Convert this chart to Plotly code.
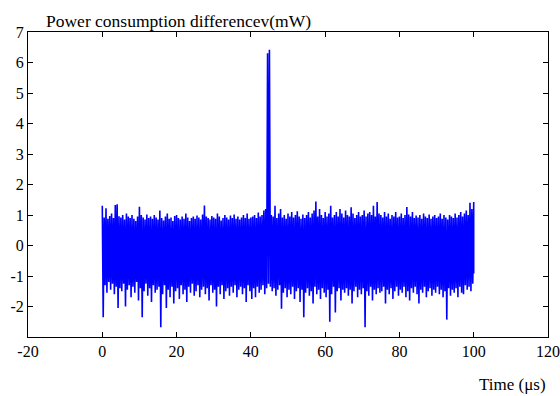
import plotly.graph_objects as go

# time grid step (µs) for envelope samples
t_start = 0.0
t_step = 0.5

# upper envelope (mW) every 0.5 µs from 0 to 100
upper = [
    1.30, 0.92, 1.22, 0.88, 0.97, 1.05, 0.90, 1.33, 1.35, 0.96,
    0.92, 1.00, 0.85, 1.05, 0.95, 0.90, 1.00, 0.88, 0.80, 0.95,
    1.27, 1.00, 0.92, 0.85, 1.02, 0.90, 0.95, 0.88, 1.00, 0.92,
    0.85, 1.15, 0.90, 0.82, 0.95, 1.05, 0.88, 0.92, 0.80, 0.97,
    1.00, 0.90, 0.85, 0.95, 0.88, 1.05, 0.92, 0.80, 0.90, 0.95,
    0.88, 0.98, 0.92, 0.85, 1.02, 1.31, 0.95, 0.90, 0.85, 0.97,
    0.92, 0.88, 1.05, 0.95, 0.82, 0.90, 1.00, 0.92, 0.85, 0.98,
    0.90, 1.02, 0.88, 0.95, 0.85, 0.92, 1.00, 0.90, 1.05, 0.88,
    0.92, 0.95, 1.00, 0.90, 1.08, 0.95, 1.00, 1.15, 1.20, 6.30,
    6.42, 1.00, 0.95, 1.30, 0.90, 1.05, 1.20, 0.92, 1.00, 0.88,
    1.05, 0.95, 1.10, 0.92, 1.00, 1.12, 0.95, 0.88, 1.02, 0.90,
    1.00, 1.10, 0.92, 1.05, 1.15, 1.44, 0.95, 1.20, 1.00, 0.90,
    1.10, 0.95, 1.05, 1.30, 0.92, 1.00, 1.10, 0.95, 1.20, 1.05,
    0.92, 1.15, 1.00, 0.95, 1.25, 1.05, 0.90, 1.00, 1.10, 0.95,
    1.00, 1.15, 0.95, 1.05, 1.10, 1.00, 1.30, 0.95, 1.43, 1.05,
    1.00, 0.92, 1.10, 0.95, 1.05, 0.88, 1.00, 0.95, 1.10, 0.92,
    0.95, 1.05, 0.90, 1.00, 1.26, 1.02, 0.95, 1.10, 0.90, 0.98,
    0.92, 1.00, 0.88, 1.05, 0.95, 0.90, 1.02, 0.88, 0.95, 1.00,
    0.90, 0.95, 1.05, 0.88, 1.00, 0.92, 0.85, 1.00, 0.95, 0.90,
    1.05, 0.92, 1.00, 1.10, 0.95, 1.05, 1.15, 1.00, 1.40, 1.20,
    1.43,
]

# lower envelope (mW) every 0.5 µs from 0 to 100 (sampled a quarter step later)
lower = [
    -2.35, -1.30, -1.55, -1.20, -1.45, -1.25, -1.60, -1.35, -2.05, -1.40,
    -1.50, -1.25, -2.00, -1.45, -1.30, -1.70, -1.35, -1.55, -1.20, -1.80,
    -1.40, -2.35, -1.50, -1.25, -1.65, -1.40, -1.85, -1.30, -1.55, -1.45,
    -1.35, -2.68, -1.60, -1.30, -2.05, -1.45, -1.70, -1.35, -1.90, -1.50,
    -1.40, -1.75, -1.30, -1.60, -1.45, -1.85, -1.35, -1.55, -1.25, -1.65,
    -1.50, -1.30, -1.70, -1.45, -1.35, -1.60, -1.40, -1.80, -1.30, -1.55,
    -1.45, -2.00, -1.35, -1.60, -1.30, -1.75, -1.50, -1.40, -1.65, -1.35,
    -1.55, -1.30, -1.70, -1.45, -1.35, -1.60, -1.40, -1.85, -1.30, -1.50,
    -1.75, -1.40, -1.70, -1.35, -1.55, -1.45, -1.30, -1.60, -1.40, -1.25,
    -1.35, -1.50, -1.40, -1.65, -1.45, -1.30, -2.07, -1.55, -1.40, -1.70,
    -1.45, -1.60, -1.35, -1.75, -1.50, -1.40, -1.85, -1.45, -2.35, -1.55,
    -1.40, -1.65, -1.50, -1.90, -1.35, -1.60, -1.45, -1.75, -1.40, -1.55,
    -1.70, -1.45, -2.50, -1.60, -1.35, -2.20, -1.50, -1.40, -1.80, -1.45,
    -1.55, -1.40, -1.65, -1.45, -1.90, -1.50, -1.35, -1.70, -1.45, -1.60,
    -1.40, -2.68, -1.50, -1.65, -1.35, -1.80, -1.45, -1.60, -1.40, -1.55,
    -1.50, -1.35, -1.90, -1.45, -1.60, -1.40, -1.75, -1.50, -1.35, -1.65,
    -1.45, -1.55, -1.35, -1.70, -1.50, -1.80, -1.40, -1.55, -1.35, -1.60,
    -1.90, -1.45, -1.55, -1.35, -1.70, -1.50, -1.40, -1.65, -1.45, -1.55,
    -1.35, -1.60, -1.45, -1.70, -1.50, -2.43, -1.40, -1.65, -1.45, -1.55,
    -1.40, -1.70, -1.35, -1.55, -1.60, -1.30, -1.45, -1.35, -1.50, -1.25,
    -0.92,
]

x_ticks = [-20, 0, 20, 40, 60, 80, 100, 120]
y_ticks = [-2, -1, 0, 1, 2, 3, 4, 5, 6, 7]

# build the zig-zag trace: upper sample, then lower sample a quarter step later
xs, ys = [], []
for i, (u, l) in enumerate(zip(upper, lower)):
    t = t_start + i * t_step
    xs.append(t)
    ys.append(u)
    if i < len(upper) - 1:
        xs.append(t + t_step / 2)
    else:
        xs.append(t)
    ys.append(l)

FAMILY = "Liberation Serif, Times New Roman, serif"
font = dict(family=FAMILY, size=16, color="black")
title_font = dict(family=FAMILY, size=17.5, color="black")
xlabel_font = dict(family=FAMILY, size=17, color="black")

fig = go.Figure()
fig.add_trace(go.Scatter(x=xs, y=ys, mode="lines",
                         line=dict(color="#0000FF", width=1.6), showlegend=False,
                         hoverinfo="skip"))

axis_common = dict(showline=True, linecolor="black", linewidth=1, mirror="ticks",
                   ticks="inside", ticklen=5, tickcolor="black", tickwidth=1,
                   showgrid=False, zeroline=False, tickfont=font, automargin=False)

fig.update_xaxes(range=[-20, 120], tickvals=x_ticks, ticktext=[str(v) for v in x_ticks],
                 **axis_common)
fig.update_yaxes(range=[-3, 7], tickvals=y_ticks, ticktext=[str(v) for v in y_ticks],
                 **axis_common)

fig.update_layout(
    width=560, height=396,
    margin=dict(l=28, r=12, t=32, b=59, autoexpand=False),
    plot_bgcolor="white", paper_bgcolor="white",
    font=font,
    annotations=[
        dict(text="Power consumption differencev(mW)", xref="paper", yref="paper",
             x=0.031, y=1.036, xanchor="left", yanchor="middle", showarrow=False,
             font=title_font),
        dict(text="Time (\u03bcs)", xref="paper", yref="paper",
             x=1.0, y=-0.157, xanchor="right", yanchor="middle", showarrow=False,
             font=xlabel_font),
    ],
)

# remove the default page margin so the figure fills the window exactly
fig.write_html(
    "out.html",
    config={"displayModeBar": False, "staticPlot": True},
    post_script="document.body.style.margin='0';document.body.style.overflow='hidden';",
)
